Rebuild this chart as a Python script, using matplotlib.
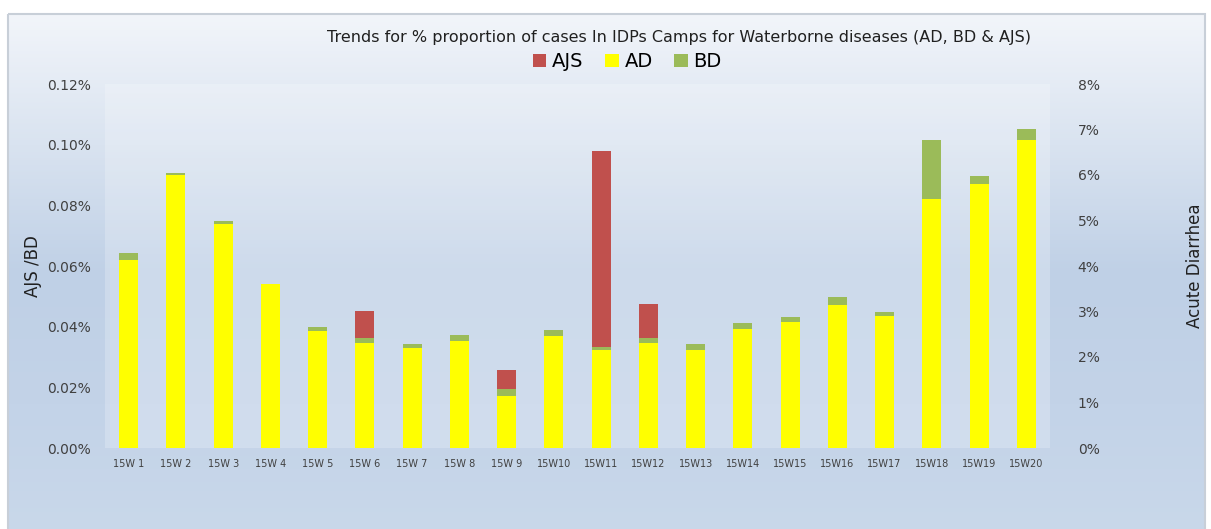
import numpy as np
import matplotlib.pyplot as plt
from matplotlib.colors import LinearSegmentedColormap
from matplotlib.patches import Rectangle
from matplotlib.ticker import FuncFormatter

weeks = ['15W 1', '15W 2', '15W 3', '15W 4', '15W 5', '15W 6', '15W 7', '15W 8', '15W 9', '15W10',
         '15W11', '15W12', '15W13', '15W14', '15W15', '15W16', '15W17', '15W18', '15W19', '15W20']
# AD on the right axis (% of cases)
ad = [4.13, 6.00, 4.92, 3.60, 2.58, 2.31, 2.20, 2.35, 1.15, 2.46,
      2.15, 2.31, 2.15, 2.62, 2.76, 3.14, 2.90, 5.47, 5.80, 6.78]
# BD and AJS on the left axis (% of cases)
bd = [0.0023, 0.0007, 0.0010, 0.0000, 0.0011, 0.0016, 0.0013, 0.0020, 0.0022, 0.0020,
      0.0010, 0.0016, 0.0020, 0.0019, 0.0018, 0.0026, 0.0013, 0.0196, 0.0027, 0.0033]
ajs = [0, 0, 0, 0, 0, 0.0089, 0, 0, 0.0063, 0,
       0.0646, 0.0113, 0, 0, 0, 0, 0, 0, 0, 0]

left_max = 0.12
right_max = 8.0

fig = plt.figure(figsize=(12.11, 5.29), dpi=100)

# background gradient box
bg = fig.add_axes([0, 0, 1, 1], zorder=-2)
bg.axis('off')
cmap = LinearSegmentedColormap.from_list('bg', ['#f2f5fa', '#d9e3f0', '#bfd0e6', '#c3d3e8', '#c9d8ea'])
grad = np.linspace(0, 1, 256).reshape(-1, 1)
bg.imshow(grad, cmap=cmap, aspect='auto', extent=[8, 1205, 535, 14])
bg.add_patch(Rectangle((8, 14), 1197, 530, fill=False, edgecolor='#c8cfd8', lw=1.5))
bg.set_xlim(0, 1211)
bg.set_ylim(529, 0)

ax = fig.add_axes([105/1211, 1-448/529, 945/1211, 364/529])
ax.set_facecolor((1, 1, 1, 0.22))

x = np.arange(len(weeks))
ad_left = np.array(ad) * left_max / right_max
bd = np.array(bd)
ajs = np.array(ajs)
w = 0.4
ax.bar(x, ad_left, w, color='#ffff00', label='AD')
ax.bar(x, bd, w, bottom=ad_left, color='#9bbb59', label='BD')
ax.bar(x, ajs, w, bottom=ad_left + bd, color='#c0504d', label='AJS')

ax.set_xlim(-0.5, len(weeks) - 0.5)
ax.set_ylim(0, left_max)
ax.set_yticks(np.arange(0, 0.121, 0.02))
ax.yaxis.set_major_formatter(FuncFormatter(lambda v, p: '%.2f%%' % v))
ax.set_xticks(x)
ax.set_xticklabels(weeks, fontsize=7, color='#404040')
ax.tick_params(axis='y', labelsize=10, colors='#404040', length=0, pad=10)
ax.tick_params(axis='x', length=0, pad=8)
for s in ax.spines.values():
    s.set_visible(False)
ax.set_ylabel('AJS /BD', fontsize=12, color='#202020', labelpad=4)

ax2 = ax.twinx()
ax2.set_ylim(0, right_max)
ax2.set_yticks(np.arange(0, 8.1, 1))
ax2.yaxis.set_major_formatter(FuncFormatter(lambda v, p: '%d%%' % v))
ax2.tick_params(axis='y', labelsize=10, colors='#404040', length=0, pad=20)
for s in ax2.spines.values():
    s.set_visible(False)
ax2.set_ylabel('Acute Diarrhea', fontsize=12, color='#202020', labelpad=62)

fig.text(0.561, 0.93, 'Trends for % proportion of cases In IDPs Camps for Waterborne diseases (AD, BD & AJS)',
         ha='center', va='center', fontsize=11.5, color='#202020')

h, l = ax.get_legend_handles_labels()
order = [2, 0, 1]
fig.legend([h[i] for i in order], [l[i] for i in order], loc='center', bbox_to_anchor=(0.518, 0.883),
           ncol=3, frameon=False, fontsize=14, handlelength=0.7, handleheight=0.7,
           handletextpad=0.3, columnspacing=1.1)

fig.savefig('out.png', dpi=100)
